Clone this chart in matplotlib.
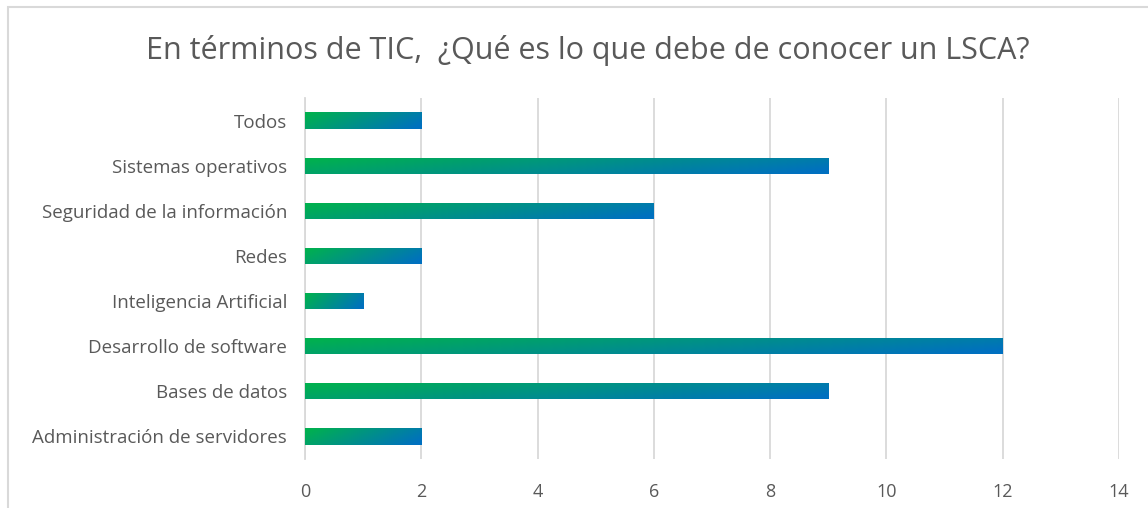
import numpy as np
import matplotlib
matplotlib.use("Agg")
import matplotlib.pyplot as plt
from matplotlib.colors import LinearSegmentedColormap
from matplotlib.patches import Rectangle

categorias = [
    "Administración de servidores",
    "Bases de datos",
    "Desarrollo de software",
    "Inteligencia Artificial",
    "Redes",
    "Seguridad de la información",
    "Sistemas operativos",
    "Todos",
]
valores = [2, 9, 12, 1, 2, 6, 9, 2]
ticks_x = [0, 2, 4, 6, 8, 10, 12, 14]
titulo = "En términos de TIC,  ¿Qué es lo que debe de conocer un LSCA?"

W, H = 1148, 508
gris_texto = "#595959"
gris_linea = "#D9D9D9"
degradado = LinearSegmentedColormap.from_list("verde_azul", ["#00B050", "#0070C0"])

plt.rcParams["font.family"] = ["Open Sans", "DejaVu Sans"]

fig = plt.figure(figsize=(W / 100, H / 100), dpi=100)
ax = fig.add_axes([305 / W, (H - 459) / H, (1119 - 305) / W, (459 - 98) / H])

# borde del gráfico (recortado a la derecha y abajo)
fig.patches.append(Rectangle((7.5 / W, -0.1), 1.2, (H - 7) / H + 0.1,
                             transform=fig.transFigure, fill=False,
                             edgecolor=gris_linea, linewidth=1.5))

alto = 0.36
ys = np.arange(len(categorias))
barras = ax.barh(ys, valores, height=alto, color="none", zorder=3)

# degradado diagonal en cada barra
gx = np.linspace(0, 1, 200)[None, :]
gy = np.linspace(0, 1, 20)[:, None]
grad = np.clip(0.85 * gx + 0.25 * gy - 0.05, 0, 1)
for b, v, y in zip(barras, valores, ys):
    im = ax.imshow(grad, cmap=degradado, extent=(0, v, y - alto / 2, y + alto / 2),
                   origin="upper", aspect="auto", zorder=3, interpolation="bilinear")
    im.set_clip_path(b)

ax.set_xlim(0, 14)
ax.set_ylim(-0.5, len(categorias) - 0.5)
ax.set_xticks(ticks_x)
ax.set_yticks(ys)
ax.set_yticklabels(categorias)
ax.grid(axis="x", color=gris_linea, linewidth=1.3, zorder=0)
ax.set_axisbelow(True)
for s in ["top", "right", "bottom"]:
    ax.spines[s].set_visible(False)
ax.spines["left"].set_color(gris_linea)
ax.spines["left"].set_linewidth(1.3)
ax.tick_params(axis="both", length=0, colors=gris_texto, labelsize=13.5)
ax.tick_params(axis="x", pad=17, labelsize=13)
ax.tick_params(axis="y", pad=13)

fig.text(588 / W, 1 - 51 / H, titulo, ha="center", va="center",
         fontsize=22, color=gris_texto)

fig.savefig("out.png", dpi=100)
